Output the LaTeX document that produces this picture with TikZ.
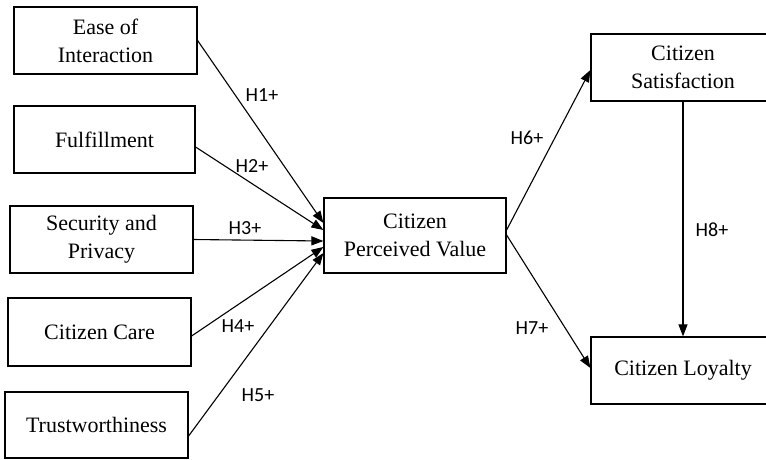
\documentclass[tikz,border=0pt]{standalone}
\usepackage{fontspec}
\setmainfont{Liberation Serif}
\newfontfamily\lblfont{Carlito}
\usetikzlibrary{arrows.meta}
\begin{document}
\begin{tikzpicture}[x=1pt,y=-1pt,
  box/.style={draw,line width=1.2pt,rectangle,inner sep=0pt,align=center,
    font=\fontsize{22}{28}\selectfont},
  lbl/.style={inner sep=0pt,font=\lblfont\fontsize{20}{24}\selectfont},
  conn/.style={line width=1.1pt,-{Triangle[length=12pt,width=9pt]}}]
\useasboundingbox (0,0) rectangle (766,459);
\clip (0,0) rectangle (766,459);
\node[box,minimum width=183pt,minimum height=67pt] (ease) at (105.5,40.5) {Ease of\\Interaction};
\node[box,minimum width=181pt,minimum height=67pt] (ful) at (104.5,139.5) {Fulfillment};
\node[box,minimum width=183pt,minimum height=67pt] (sec) at (101.5,239.5) {Security and\\Privacy};
\node[box,minimum width=183pt,minimum height=68pt] (care) at (99.5,332) {Citizen Care};
\node[box,minimum width=183pt,minimum height=66pt] (trust) at (96.5,425) {Trustworthiness};
\node[box,minimum width=182pt,minimum height=75pt] (cpv) at (415,235.5) {Citizen\\Perceived Value};
\node[box,minimum width=184pt,minimum height=67pt] (sat) at (683,67.5) {Citizen\\Satisfaction};
\node[box,minimum width=184pt,minimum height=67pt] (loy) at (683,370.5) {Citizen Loyalty};

\draw[conn] (ease.east) -- ([yshift=12.5pt]cpv.west);
\draw[conn] ([yshift=-7.5pt]ful.east) -- ([yshift=5.5pt]cpv.west);
\draw[conn] (sec.east) -- ([yshift=-5.5pt]cpv.west);
\draw[conn] ([yshift=-4pt]care.east) -- ([yshift=-11.5pt]cpv.west);
\draw[conn] ([yshift=-11pt]trust.east) -- ([yshift=-17.5pt]cpv.west);
\draw[conn] ([yshift=5.5pt]cpv.east) -- ([yshift=-2.5pt]sat.west);
\draw[conn] ([yshift=0.5pt]cpv.east) -- ([yshift=2.5pt]loy.west);
\draw[conn] (sat.south) -- (loy.north);

\node[lbl] (h1) at (262,95) {H1+};
\node[lbl] (h2) at (252,166) {H2+};
\node[lbl] (h3) at (245,228) {H3+};
\node[lbl] (h4) at (238,326) {H4+};
\node[lbl] (h5) at (258,395) {H5+};
\node[lbl] (h6) at (527,138) {H6+};
\node[lbl] (h7) at (532,328) {H7+};
\node[lbl] (h8) at (712,230) {H8+};
\end{tikzpicture}
\end{document}
